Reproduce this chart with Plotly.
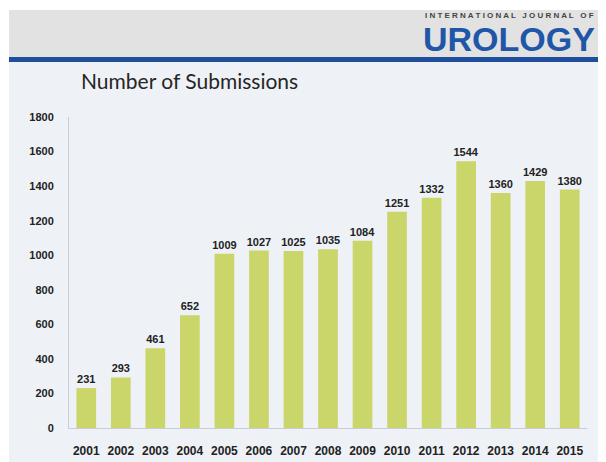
import plotly.graph_objects as go

years = ["2001", "2002", "2003", "2004", "2005", "2006", "2007", "2008",
         "2009", "2010", "2011", "2012", "2013", "2014", "2015"]
submissions = [231, 293, 461, 652, 1009, 1027, 1025, 1035, 1084, 1251,
               1332, 1544, 1360, 1429, 1380]
y_ticks = [0, 200, 400, 600, 800, 1000, 1200, 1400, 1600, 1800]

OFF = 8  # page body margin in the browser
WIN_W, WIN_H = 606, 462
W, H = WIN_W - OFF, WIN_H - OFF
# plot area in window pixels
L, R, T, B = 69, 587, 117, 428


def px(x):
    return (x - L) / (R - L)


def py(y):
    return (B - y) / (B - T)


fig = go.Figure()
fig.add_trace(go.Bar(
    x=years, y=submissions,
    marker=dict(color="#cad56a", line=dict(width=0)),
    text=[str(v) for v in submissions],
    textposition="outside",
    constraintext="none",
    cliponaxis=False,
    textfont=dict(family="Liberation Sans", size=11, color="#222222", weight="bold"),
))

shapes = [
    dict(type="rect", xref="paper", yref="paper", x0=px(9), x1=px(WIN_W + 5),
         y0=py(10), y1=py(WIN_H + 5), fillcolor="#eef2f7", line=dict(width=0), layer="below"),
    dict(type="rect", xref="paper", yref="paper", x0=px(9), x1=px(WIN_W + 5),
         y0=py(10), y1=py(57), fillcolor="#e2e2e2", line=dict(width=0), layer="below"),
    dict(type="rect", xref="paper", yref="paper", x0=px(9), x1=px(WIN_W + 5),
         y0=py(57), y1=py(62), fillcolor="#1f4f9c", line=dict(width=0), layer="below"),
]

annotations = [
    dict(text="Number of Submissions", xref="paper", yref="paper",
         x=px(79), y=py(80), xanchor="left", yanchor="middle", showarrow=False,
         font=dict(family="Lato", size=21, color="#262626")),
    dict(text="I N T E R N A T I O N A L   J O U R N A L   O F", xref="paper", yref="paper",
         x=px(423), y=py(16), xanchor="left", yanchor="middle", showarrow=False,
         font=dict(family="Liberation Sans", size=8, color="#444444", weight="bold")),
    dict(text="UROLOGY", xref="paper", yref="paper",
         x=px(421), y=py(39), xanchor="left", yanchor="middle", showarrow=False,
         font=dict(family="Liberation Sans", size=34, color="#1f56a8", weight="bold")),
]

fig.update_layout(
    width=W, height=H,
    margin=dict(l=L - OFF, r=WIN_W - R, t=T - OFF, b=WIN_H - B),
    paper_bgcolor="#ffffff",
    plot_bgcolor="rgba(0,0,0,0)",
    showlegend=False,
    bargap=0.43,
    shapes=shapes,
    annotations=annotations,
    xaxis=dict(
        automargin=False,
        showline=True, linecolor="#c9cdd6", linewidth=1,
        showgrid=False, ticks="", ticklabelstandoff=12,
        tickfont=dict(family="Liberation Sans", size=12, color="#222222", weight="bold"),
    ),
    yaxis=dict(
        automargin=False,
        range=[0, 1800], tickvals=y_ticks,
        showline=True, linecolor="#c9cdd6", linewidth=1,
        showgrid=False, zeroline=False, ticks="", ticklabelstandoff=12,
        tickfont=dict(family="Liberation Sans", size=11, color="#222222", weight="bold"),
    ),
)

fig.write_html("out.html")
